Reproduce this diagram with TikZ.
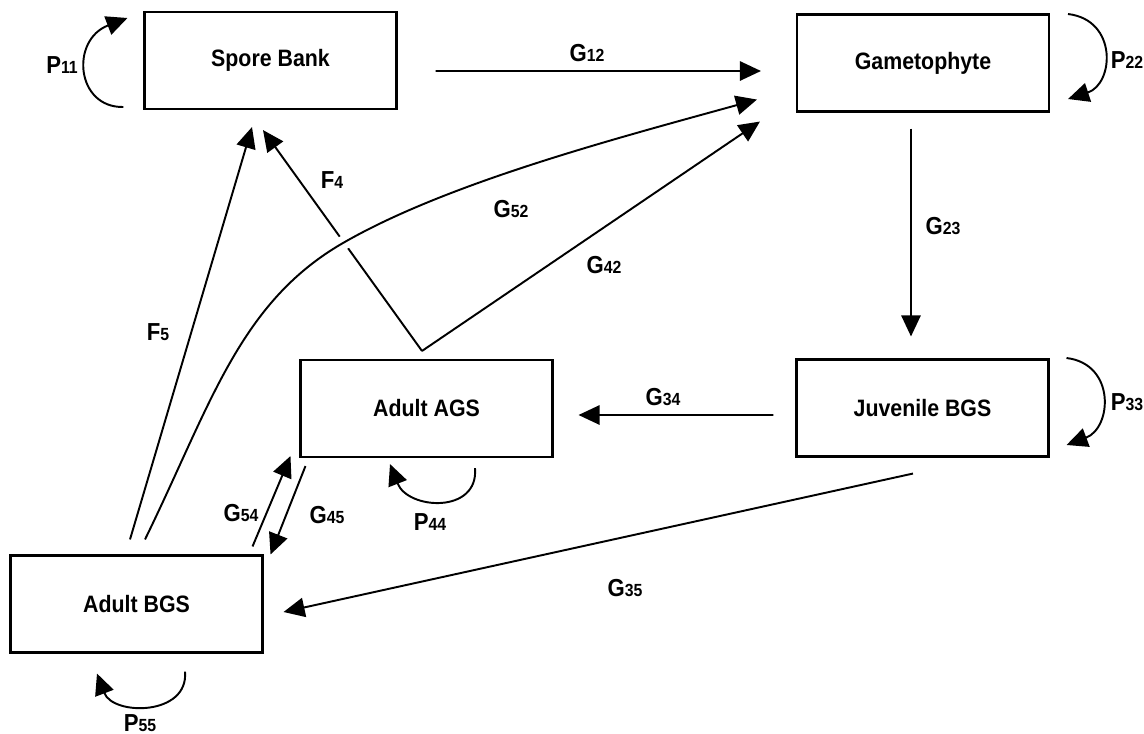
\documentclass[tikz,border=0pt]{standalone}
\usepackage{fontspec}
\setmainfont{Liberation Sans}[FakeStretch=0.9]
\usetikzlibrary{arrows.meta}
\newcommand\lbsub[2]{#1{\fontsize{10}{10}\selectfont #2}}
\begin{document}
\begin{tikzpicture}[x=0.02cm,y=-0.02cm,
  box/.style={draw,line width=1.2pt,minimum width=5.04cm,minimum height=1.94cm,inner sep=0pt,font=\fontsize{13.5}{16}\selectfont\bfseries},
  arr/.style={line width=1.1pt,-{Triangle[length=12pt,width=11pt]}},
  lab/.style={inner sep=0pt,font=\fontsize{14}{16}\selectfont\bfseries}]
\useasboundingbox (0,0) rectangle (1144,734);
% boxes
\node[box] (sb)   at (270.5,60.5) {Spore Bank};
\node[box] (gam)  at (923,63)     {Gametophyte};
\node[box] (juv)  at (922.5,408)  {Juvenile BGS};
\node[box] (aags) at (426.5,408.5){Adult AGS};
\node[box] (abgs) at (136.5,604)  {Adult BGS};
% end points
\coordinate (apex) at ([shift={(-4.5,-8)}]aags.north);
\coordinate (g52s) at ([shift={(8.5,-15)}]abgs.north);
\coordinate (g52e) at ([shift={(-39,-13)}]gam.south west);
% F4 first (crossed by G52)
\draw[arr] (apex) -- ([shift={(-7.5,20)}]sb.south);
% G52 with white gap
\draw[arr,preaction={draw=white,line width=8pt,-}]
  (g52s) .. controls (210.7,405) and (239,303) .. (343,243)
  .. controls (447,183) and (614,139) .. (g52e);
% other connectors
\draw[arr] ([shift={(38,10.5)}]sb.east) -- ([shift={(-35,8)}]gam.west);
\draw[arr] ([shift={(-12,16)}]gam.south) -- ([shift={(-11.5,-22)}]juv.north);
\draw[arr] ([shift={(-22,7)}]juv.west) -- ([shift={(25,6.5)}]aags.east);
\draw[arr] ([shift={(-9.5,16)}]juv.south) -- ([shift={(20,8)}]abgs.east);
\draw[arr] (apex) -- ([shift={(-36,9)}]gam.south west);
\draw[arr] ([shift={(-6.5,-15)}]abgs.north) -- ([shift={(-18.5,17)}]sb.south);
\draw[arr] ([shift={(-11,-8)}]abgs.north east) -- ([shift={(-9,-2)}]aags.south west);
\draw[arr] ([shift={(6,8)}]aags.south west) -- ([shift={(7,0)}]abgs.north east);
% self loops
\draw[arr] ([shift={(-20,46.5)}]sb.west) .. controls (76,108) and (70,40) .. ([shift={(-16,-42.5)}]sb.west);
\draw[arr] ([shift={(18,-49)}]gam.east) .. controls (1118,20) and (1114,84) .. ([shift={(18,36)}]gam.east);
\draw[arr] ([shift={(17,-50)}]juv.east) .. controls (1116,364) and (1112,428) .. ([shift={(17,37)}]juv.east);
\draw[arr] ([shift={(48.5,10)}]aags.south) .. controls (479,514) and (408,510) .. ([shift={(-36.5,6)}]aags.south);
\draw[arr] ([shift={(48.5,18)}]abgs.south) .. controls (189,716) and (113,716) .. ([shift={(-39.5,20)}]abgs.south);
% labels
\node[lab] (p11) at (62,65)   {\lbsub{P}{11}};
\node[lab] (p22) at (1127,60) {\lbsub{P}{22}};
\node[lab] (p33) at (1127,402){\lbsub{P}{33}};
\node[lab] (p44) at (430,522) {\lbsub{P}{44}};
\node[lab] (p55) at (140,723) {\lbsub{P}{55}};
\node[lab] (g12) at (587,53)  {\lbsub{G}{12}};
\node[lab] (g23) at (943,226) {\lbsub{G}{23}};
\node[lab] (g34) at (663,397) {\lbsub{G}{34}};
\node[lab] (g35) at (625,588) {\lbsub{G}{35}};
\node[lab] (f4)  at (332,180) {\lbsub{F}{4}};
\node[lab] (f5)  at (158,332) {\lbsub{F}{5}};
\node[lab] (g52) at (511,209) {\lbsub{G}{52}};
\node[lab] (g42) at (604,265) {\lbsub{G}{42}};
\node[lab] (g54) at (241,513) {\lbsub{G}{54}};
\node[lab] (g45) at (327,515) {\lbsub{G}{45}};
\end{tikzpicture}
\end{document}
